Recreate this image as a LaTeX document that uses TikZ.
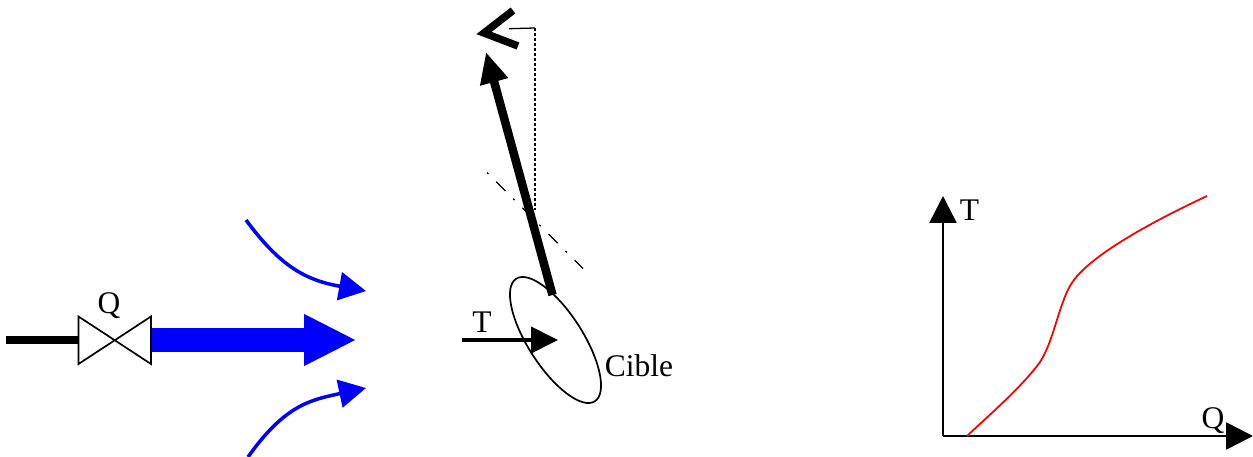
\documentclass[tikz,border=0pt]{standalone}
\usepackage{fontspec}
\setmainfont{Liberation Serif}
\usetikzlibrary{arrows.meta,shapes.geometric}
\tikzset{
  lbl/.style={font=\fontsize{31.5}{31.5}\selectfont,inner sep=0pt,text=black},
  fatblue/.style={draw=blue,line width=24pt,-{Triangle[length=52.5pt,width=48pt]}},
  thinblue/.style={draw=blue,line width=3.5pt,-{Triangle[length=27pt,width=28pt]}},
  blackarrow/.style={draw=black,line width=8.5pt,-{Triangle[length=31pt,width=27pt]}},
  tarrow/.style={draw=black,line width=4pt,-{Triangle[length=27pt,width=26pt]}},
  axis/.style={draw=black,line width=2.6pt,-{Triangle[length=27pt,width=27pt]}},
  redcurve/.style={draw=red,line width=1.8pt,line join=round},
  valveshape/.style={draw=black,line width=1.7pt,fill=white,line join=miter},
}
\begin{document}
\begin{tikzpicture}[x=1pt,y=-1pt]
\useasboundingbox (0,0) rectangle (1253,457);
% left: valve and flows
\coordinate (stubstart) at (6,340);
\coordinate (vl) at (78.5,340);
\coordinate (vr) at (151,340);
\coordinate (fattip) at (356.5,340);
\draw[line width=8pt] (stubstart) -- (vl);
\draw[fatblue] (vr) -- (fattip);
\draw[valveshape] (78.5,316.5) -- (151,364) -- (151,316.5) -- (78.5,364) -- cycle;
\node[lbl] (qvalve) at (109,306) {Q};
\coordinate (upstart) at (246,220);
\coordinate (uptip) at (366,291);
\coordinate (lowstart) at (248,457);
\coordinate (lowtip) at (366,388);
\draw[thinblue] (upstart) .. controls (280,266) and (305,280) .. (uptip);
\draw[thinblue] (lowstart) .. controls (285,405) and (310,400) .. (lowtip);
% middle: target
\node[draw=black,line width=1.7pt,ellipse,minimum width=145.6pt,minimum height=54.6pt,inner sep=0pt,rotate=-57.3] (target) at (555.5,340) {};
\coordinate (bigstart) at (552.5,295);
\coordinate (bigtip) at (486,52);
\draw[blackarrow] (bigstart) -- (bigtip);
\coordinate (tstart) at (462,340);
\coordinate (ttip) at (558,340);
\draw[tarrow] (tstart) -- (ttip);
\node[lbl] (tlabel) at (482,322) {T};
\node[lbl] (cible) at (639,366) {Cible};
\coordinate (chevA) at (513,10.5);
\coordinate (chevT) at (484,33);
\coordinate (chevB) at (518,46);
\draw[line width=7.5pt,line join=miter,miter limit=10] (chevA) -- (chevT) -- (chevB);
\coordinate (dashA) at (509,28.7);
\coordinate (dashB) at (535,28);
\coordinate (dashC) at (535,210);
\draw[line width=1.3pt] (dashA) -- (dashB);
\draw[line width=1.8pt,dash pattern=on 3pt off 2pt] (dashB) -- (dashC);
\coordinate (normA) at (487,172.5);
\coordinate (normB) at (583,268.5);
\draw[line width=1.4pt,dash pattern=on 2pt off 11pt on 13pt off 11pt] (normA) -- (normB);
% right: chart
\coordinate (origin) at (943,436);
\coordinate (ytip) at (943,196);
\coordinate (xtip) at (1253,436);
\draw[axis] (origin) -- (ytip);
\draw[axis] (origin) -- (xtip);
\node[lbl] (taxis) at (969.5,210) {T};
\node[lbl] (qaxis) at (1213,421) {Q};
\draw[redcurve] (967,436) .. controls (987,417) and (1022,387) .. (1040,362)
  .. controls (1051,345) and (1056,320) .. (1063,302)
  .. controls (1067,290) and (1072,281) .. (1080,273)
  .. controls (1105,247) and (1160,218) .. (1207,196);
\end{tikzpicture}
\end{document}
